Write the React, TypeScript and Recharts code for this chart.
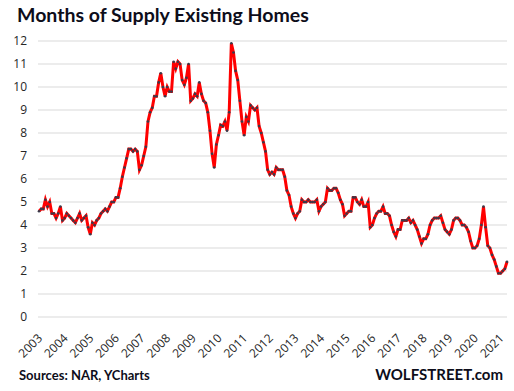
import { LineChart, Line, XAxis, YAxis, CartesianGrid } from 'recharts';

// months of supply, one array per year (Jan..Dec)
const y2003 = [4.6, 4.7, 4.7, 5.1, 4.8, 5.0, 4.5, 4.5, 4.3, 4.5, 4.8, 4.2];
const y2004 = [4.3, 4.5, 4.4, 4.3, 4.2, 4.1, 4.3, 4.5, 4.2, 4.3, 4.4, 3.9];
const y2005 = [3.6, 4.1, 4.0, 4.2, 4.3, 4.5, 4.6, 4.7, 4.6, 4.8, 5.0, 5.0];
const y2006 = [5.2, 5.2, 5.6, 6.1, 6.5, 6.9, 7.3, 7.3, 7.2, 7.3, 7.2, 6.4];
const y2007 = [6.6, 7.0, 7.4, 8.5, 8.9, 9.1, 9.6, 9.6, 10.2, 10.6, 10.0, 9.6];
const y2008 = [10.0, 9.8, 9.8, 11.1, 10.8, 11.1, 11.0, 10.3, 10.1, 10.4, 11.0, 9.4];
const y2009 = [9.5, 9.7, 9.6, 10.2, 9.7, 9.4, 9.3, 8.9, 8.1, 7.1, 6.5, 7.5];
const y2010 = [7.9, 8.35, 8.3, 8.5, 8.1, 8.9, 11.9, 11.5, 10.7, 10.3, 9.4, 8.5];
const y2011 = [7.9, 8.7, 8.5, 9.2, 9.1, 9.0, 9.1, 8.3, 8.0, 7.6, 7.2, 6.4];
const y2012 = [6.2, 6.3, 6.2, 6.5, 6.4, 6.4, 6.4, 6.1, 5.5, 5.3, 4.8, 4.5];
const y2013 = [4.3, 4.5, 4.6, 5.1, 5.0, 5.0, 5.1, 5.0, 5.0, 5.0, 5.1, 4.6];
const y2014 = [4.8, 4.9, 5.0, 5.6, 5.5, 5.5, 5.6, 5.6, 5.4, 5.1, 4.9, 4.4];
const y2015 = [4.5, 4.6, 4.6, 5.2, 5.2, 5.0, 4.9, 5.1, 4.8, 4.8, 5.0, 3.9];
const y2016 = [4.0, 4.3, 4.5, 4.6, 4.6, 4.8, 4.5, 4.5, 4.4, 4.0, 3.7, 3.5];
const y2017 = [3.8, 3.8, 4.2, 4.2, 4.2, 4.3, 4.1, 4.2, 4.0, 3.8, 3.5, 3.2];
const y2018 = [3.4, 3.4, 3.6, 4.0, 4.2, 4.3, 4.3, 4.3, 4.4, 4.1, 3.8, 3.7];
const y2019 = [3.6, 3.8, 4.2, 4.3, 4.3, 4.2, 4.0, 4.0, 3.9, 3.7, 3.3, 3.0];
const y2020 = [3.0, 3.1, 3.4, 4.0, 4.8, 3.9, 3.1, 3.0, 2.7, 2.5, 2.2, 1.9];
const y2021 = [1.9, 2.0, 2.1, 2.4];

const years = [2003, 2004, 2005, 2006, 2007, 2008, 2009, 2010, 2011, 2012, 2013, 2014, 2015, 2016, 2017, 2018, 2019, 2020, 2021];
const yTicks = [0, 1, 2, 3, 4, 5, 6, 7, 8, 9, 10, 11, 12];

const values = [
  ...y2003, ...y2004, ...y2005, ...y2006, ...y2007, ...y2008, ...y2009, ...y2010,
  ...y2011, ...y2012, ...y2013, ...y2014, ...y2015, ...y2016, ...y2017, ...y2018,
  ...y2019, ...y2020, ...y2021,
];
const data = values.map((v, i) => ({ i, v }));
const xTicks = years.map((_, k) => k * 12);

const YearTick = ({ x, y, payload }: any) => (
  <text
    x={x + 4}
    y={y + 14}
    transform={`rotate(-45, ${x + 4}, ${y + 14})`}
    textAnchor="end"
    fontSize={12}
    fontFamily="'Open Sans', sans-serif"
    fill="#262626"
  >
    {years[payload.value / 12]}
  </text>
);

export default function App() {
  return (
    <div style={{ position: 'absolute', left: 0, top: 0, width: 514, height: 391, background: '#fff' }}>
      <div style={{ position: 'absolute', left: 17, top: 3, fontFamily: 'Lato, sans-serif', fontWeight: 'bold', fontSize: 19.5, color: '#0d0d1a', whiteSpace: 'nowrap' }}>
        Months of Supply Existing Homes
      </div>
      <LineChart width={514} height={391} data={data} margin={{ top: 41, right: 7, bottom: 0, left: 0 }}>
        <CartesianGrid horizontal vertical={false} stroke="#d9d9d9" />
        <XAxis
          type="number"
          dataKey="i"
          domain={[0, 219]}
          ticks={xTicks}
          interval={0}
          axisLine={false}
          tickLine={false}
          height={74}
          padding={{ left: 1, right: 0 }}
          tick={<YearTick />}
        />
        <YAxis
          domain={[0, 12]}
          ticks={yTicks}
          interval={0}
          width={38}
          axisLine={false}
          tickLine={false}
          tickMargin={5}
          tick={{ fontSize: 12, fontFamily: "'Open Sans', sans-serif", fill: '#262626' }}
        />
        <Line
          type="linear"
          dataKey="v"
          stroke="#ff0000"
          strokeWidth={3}
          dot={{ r: 1.3, fill: '#3a3a4a', stroke: 'none' }}
          isAnimationActive={false}
        />
      </LineChart>
      <div style={{ position: 'absolute', left: 19, top: 367, fontFamily: 'Lato, sans-serif', fontWeight: 'bold', fontSize: 13, color: '#0d0d1a', whiteSpace: 'nowrap' }}>
        Sources: NAR, YCharts
      </div>
      <div style={{ position: 'absolute', right: 11, top: 365, fontFamily: 'Lato, sans-serif', fontWeight: 'bold', fontSize: 15, color: '#0d0d1a', whiteSpace: 'nowrap' }}>
        WOLFSTREET.com
      </div>
    </div>
  );
}
